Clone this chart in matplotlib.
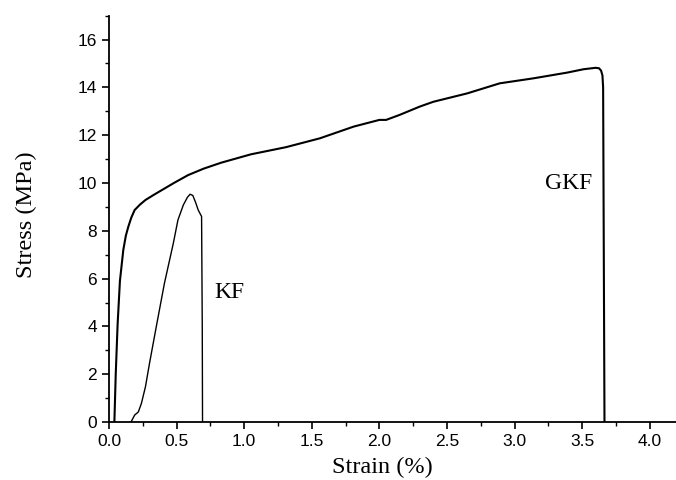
import matplotlib
matplotlib.use("Agg")
import matplotlib.pyplot as plt
from matplotlib.ticker import MultipleLocator

# GKF stress-strain curve
gkf_strain = [0.04, 0.05, 0.064, 0.081, 0.106, 0.125, 0.143, 0.165, 0.19, 0.23, 0.27,
              0.33, 0.39, 0.48, 0.585, 0.70, 0.83,
              1.05, 1.31, 1.56, 1.81, 2.0, 2.05, 2.15, 2.30, 2.40, 2.65, 2.89,
              3.14, 3.39, 3.51, 3.60, 3.625, 3.64, 3.65, 3.655, 3.66, 3.665]
gkf_stress = [0.0, 2.0, 4.1, 5.9, 7.2, 7.8, 8.17, 8.55, 8.87, 9.1, 9.29,
              9.5, 9.7, 10.0, 10.33, 10.6, 10.85,
              11.2, 11.5, 11.87, 12.36, 12.64, 12.64, 12.85, 13.2, 13.4, 13.75, 14.17,
              14.38, 14.62, 14.76, 14.82, 14.8, 14.7, 14.5, 14.0, 7.0, 0.0]

# KF stress-strain curve
kf_strain = [0.163, 0.19, 0.217, 0.24, 0.27, 0.30, 0.35, 0.41, 0.476, 0.51,
             0.55, 0.58, 0.60, 0.62, 0.64, 0.66, 0.685, 0.69, 0.692]
kf_stress = [0.0, 0.29, 0.42, 0.78, 1.48, 2.46, 3.99, 5.8, 7.48, 8.45,
             9.08, 9.4, 9.53, 9.48, 9.2, 8.87, 8.6, 4.0, 0.0]

fig = plt.figure(figsize=(6.76, 4.8), dpi=100)
ax = fig.add_axes([0.1612, 0.1208, 0.840, 0.8465])

ax.plot(gkf_strain, gkf_stress, color="black", lw=1.5)
ax.plot(kf_strain, kf_stress, color="black", lw=1.0)

serif = ["Liberation Serif", "DejaVu Serif"]
ax.text(0.89, 5.4, "KF", fontsize=17, family=serif, ha="center", va="center")
ax.text(3.40, 9.96, "GKF", fontsize=17, family=serif, ha="center", va="center")

ax.set_xlim(0, 4.2)
ax.set_ylim(0, 17)
ax.xaxis.set_major_locator(MultipleLocator(0.5))
ax.xaxis.set_minor_locator(MultipleLocator(0.25))
ax.yaxis.set_major_locator(MultipleLocator(2))
ax.yaxis.set_minor_locator(MultipleLocator(1))
ax.set_xticks([0, 0.5, 1.0, 1.5, 2.0, 2.5, 3.0, 3.5, 4.0])
ax.set_xticklabels(["0.0", "0.5", "1.0", "1.5", "2.0", "2.5", "3.0", "3.5", "4.0"])

for s in ["top", "right"]:
    ax.spines[s].set_visible(False)
for s in ["left", "bottom"]:
    ax.spines[s].set_linewidth(1.3)

ax.tick_params(which="major", direction="out", length=5, width=1.2,
               labelsize=12.5)
ax.tick_params(which="minor", direction="out", length=3, width=1.0)
for lab in ax.get_xticklabels() + ax.get_yticklabels():
    lab.set_family(["Liberation Sans", "DejaVu Sans"])

ax.set_xlabel("Strain (%)", fontsize=17.5, family=serif)
ax.set_ylabel("Stress (MPa)", fontsize=17.5, family=serif)
ax.xaxis.set_label_coords(0.482, -0.086)
ax.yaxis.set_label_coords(-0.127, 0.51)

fig.savefig("out.png", dpi=100)
